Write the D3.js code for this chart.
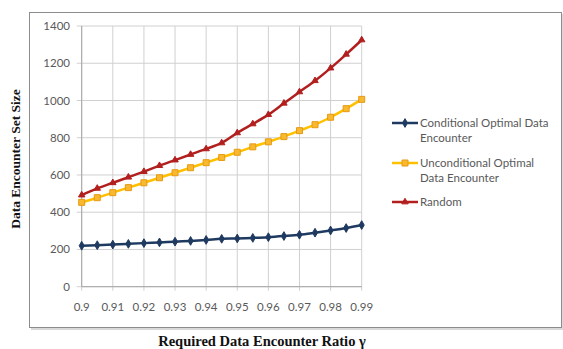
<!DOCTYPE html>
<html>
<head>
<meta charset="utf-8">
<script src="https://cdn.jsdelivr.net/npm/d3@7"></script>
<style>
    body { margin: 0; background: #fff; }
    .tick-label { font-family: Lato, "Open Sans", sans-serif; font-size: 11.5px; fill: #595959; }
    .legend-label { font-family: Lato, "Open Sans", sans-serif; font-size: 11.5px; fill: #595959; }
    .axis-title { font-family: "Liberation Serif", "Times New Roman", serif; font-size: 14.5px; font-weight: bold; fill: #111; }
    .y-title { font-size: 13.5px; }
</style>
</head>
<body>
<div id="chart"></div>
<script>
// x values (required data encounter ratio), one point every 0.005
const ratios = [0.9, 0.905, 0.91, 0.915, 0.92, 0.925, 0.93, 0.935, 0.94, 0.945,
    0.95, 0.955, 0.96, 0.965, 0.97, 0.975, 0.98, 0.985, 0.99];

// series values
const conditional = [220, 223, 226, 230, 234, 238, 242, 246, 251, 257,
    259, 262, 266, 272, 279, 290, 302, 315, 331];
const unconditional = [453, 478, 505, 532, 558, 585, 612, 639, 666, 694,
    722, 751, 778, 806, 838, 870, 910, 956, 1006];
const random = [492, 528, 558, 588, 618, 650, 680, 710, 740, 772,
    826, 874, 924, 985, 1046, 1106, 1174, 1248, 1325];

const xTicks = [0.9, 0.91, 0.92, 0.93, 0.94, 0.95, 0.96, 0.97, 0.98, 0.99];
const yTicks = [0, 200, 400, 600, 800, 1000, 1200, 1400];

const seriesNames = ["Conditional Optimal Data Encounter", "Unconditional Optimal Data Encounter", "Random"];
// legend text wraps like the original
const legendLines = [["Conditional Optimal Data", "Encounter"], ["Unconditional Optimal", "Data Encounter"], ["Random"]];

var width = 563, height = 349;
var plot = { left: 81.7, right: 361.7, top: 26, bottom: 286.7 };

var svg = d3.select("#chart")
    .append("svg")
    .attr("width", width)
    .attr("height", height);

// outer chart box with a soft shadow
svg.append("rect")
    .attr("x", 31).attr("y", 14)
    .attr("width", 532).attr("height", 316)
    .attr("fill", "#d9d9d9");
svg.append("rect")
    .attr("x", 29.5).attr("y", 12.5)
    .attr("width", 532).attr("height", 315)
    .attr("fill", "#fff")
    .attr("stroke", "#8c8c8c")
    .attr("stroke-width", 1);

var x = d3.scaleLinear().domain([0.9, 0.99]).range([plot.left, plot.right]);
var y = d3.scaleLinear().domain([0, 1400]).range([plot.bottom, plot.top]);

// gridlines
svg.append("g")
    .selectAll("line")
    .data(yTicks)
    .enter()
    .append("line")
    .attr("x1", plot.left - 5)
    .attr("x2", plot.right)
    .attr("y1", d => y(d))
    .attr("y2", d => y(d))
    .attr("stroke", "#d0d0d0")
    .attr("stroke-width", 1);

svg.append("g")
    .selectAll("line")
    .data(xTicks)
    .enter()
    .append("line")
    .attr("x1", d => x(d))
    .attr("x2", d => x(d))
    .attr("y1", plot.top)
    .attr("y2", plot.bottom + 4)
    .attr("stroke", "#d0d0d0")
    .attr("stroke-width", 1);

// axis lines
svg.append("line")
    .attr("x1", plot.left).attr("x2", plot.left)
    .attr("y1", plot.top).attr("y2", plot.bottom)
    .attr("stroke", "#a6a6a6");
svg.append("line")
    .attr("x1", plot.left).attr("x2", plot.right)
    .attr("y1", plot.bottom).attr("y2", plot.bottom)
    .attr("stroke", "#a6a6a6");

// tick labels
svg.append("g")
    .selectAll("text")
    .data(yTicks)
    .enter()
    .append("text")
    .attr("class", "tick-label")
    .attr("x", 70)
    .attr("y", d => y(d))
    .attr("dy", "0.35em")
    .attr("text-anchor", "end")
    .text(d => d);

svg.append("g")
    .selectAll("text")
    .data(xTicks)
    .enter()
    .append("text")
    .attr("class", "tick-label")
    .attr("x", d => x(d))
    .attr("y", 307)
    .attr("dy", "0.35em")
    .attr("text-anchor", "middle")
    .text(d => d);

// series styles
var styles = [
    { values: conditional, line: "#1f3a60", fill: "#1f3a60", stroke: "#1f3a60", shape: d3.symbolDiamond, size: 22 },
    { values: unconditional, line: "#ffc000", fill: "#f8b830", stroke: "#e69a12", shape: d3.symbolSquare, size: 36 },
    { values: random, line: "#b1201f", fill: "#b1201f", stroke: "#b1201f", shape: d3.symbolTriangle, size: 18 }
];

var line = d3.line()
    .x((d, i) => x(ratios[i]))
    .y(d => y(d))
    .curve(d3.curveMonotoneX);

styles.forEach(s => {
    svg.append("path")
        .datum(s.values)
        .attr("fill", "none")
        .attr("stroke", s.line)
        .attr("stroke-width", 2.5)
        .attr("d", line);

    svg.append("g")
        .selectAll("path")
        .data(s.values)
        .enter()
        .append("path")
        .attr("transform", (d, i) => "translate(" + x(ratios[i]) + "," + y(d) + ")")
        .attr("d", d3.symbol().type(s.shape).size(s.size))
        .attr("fill", s.fill)
        .attr("stroke", s.stroke)
        .attr("stroke-width", 1);
});

// legend
var legendY = [123, 163, 202];
styles.forEach((s, i) => {
    var g = svg.append("g")
        .attr("transform", "translate(392," + legendY[i] + ")");
    g.append("line")
        .attr("x1", 0).attr("x2", 26)
        .attr("y1", 0).attr("y2", 0)
        .attr("stroke", s.line)
        .attr("stroke-width", 2.5);
    g.append("path")
        .attr("transform", "translate(13,0)")
        .attr("d", d3.symbol().type(s.shape).size(s.size))
        .attr("fill", s.fill)
        .attr("stroke", s.stroke);
    legendLines[i].forEach((t, j) => {
        g.append("text")
            .attr("class", "legend-label")
            .attr("x", 28)
            .attr("y", j * 15)
            .attr("dy", "0.35em")
            .text(t);
    });
});

// axis titles
svg.append("text")
    .attr("class", "axis-title")
    .attr("x", 262)
    .attr("y", 341)
    .attr("dy", "0.35em")
    .attr("text-anchor", "middle")
    .text("Required Data Encounter Ratio γ");

svg.append("text")
    .attr("class", "axis-title y-title")
    .attr("transform", "translate(15,159) rotate(-90)")
    .attr("dy", "0.35em")
    .attr("text-anchor", "middle")
    .text("Data Encounter Set Size");
</script>
</body>
</html>
